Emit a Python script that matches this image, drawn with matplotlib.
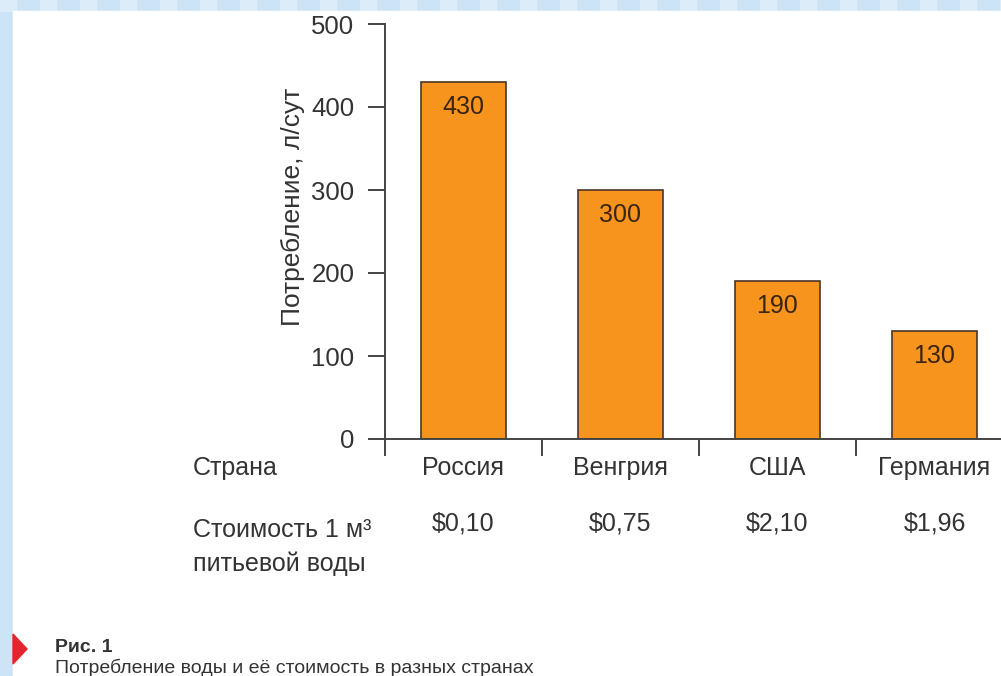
import matplotlib.pyplot as plt
import matplotlib.transforms as mtransforms
from matplotlib.patches import Rectangle, Polygon

plt.rcParams['font.family'] = ['Liberation Sans', 'DejaVu Sans']

W, H = 1001, 676

countries = ['Россия', 'Венгрия', 'США', 'Германия']
consumption = [430, 300, 190, 130]
prices = ['$0,10', '$0,75', '$2,10', '$1,96']
y_ticks = [0, 100, 200, 300, 400, 500]
separators = [-0.5, 0.5, 1.5, 2.5]

TXT = '#333333'
ORANGE = '#f7941d'


def fx(px):
    return px / W


def fy(py):
    return 1 - py / H


fig = plt.figure(figsize=(W / 100, H / 100), dpi=100)

# slide background: light blue frame, white page
fig.patches.append(Rectangle((0, 0), 1, 1, transform=fig.transFigure,
                             color='#cde4f6', zorder=-10))
for xs in range(0, W, 40):
    fig.patches.append(Rectangle((fx(xs), fy(11)), fx(16), 11 / H,
                                 transform=fig.transFigure,
                                 color='#dcecf9', zorder=-9))
fig.patches.append(Rectangle((fx(13), 0), fx(W - 13), fy(11),
                             transform=fig.transFigure,
                             color='white', zorder=-8))
fig.patches.append(Polygon([(fx(13), fy(634)), (fx(27), fy(649)), (fx(13), fy(664))],
                           closed=True, transform=fig.transFigure,
                           color='#e3262e', zorder=-7))

ax = fig.add_axes([fx(385), fy(439), fx(W - 385), (439 - 24) / H])
ax.patch.set_alpha(0)

x = list(range(len(countries)))
ax.bar(x, consumption, width=0.54, color=ORANGE, edgecolor='#4a3526',
       linewidth=1.2, zorder=2)

for i, v in zip(x, consumption):
    ax.annotate(str(v), (i, v), xytext=(0, -18), textcoords='offset points',
                ha='center', va='center', fontsize=18, color='#3a2414')

ax.set_xlim(-0.5, -0.5 + (W - 385) / 157)
ax.set_ylim(0, 500)
ax.set_yticks(y_ticks)
ax.set_xticks(separators)
ax.set_xticklabels([])
ax.tick_params(axis='y', length=12, width=1.4, pad=10, labelsize=18.5,
               colors='#444444', labelcolor=TXT)
ax.tick_params(axis='x', length=12, width=1.4, colors='#444444')
for s in ['top', 'right']:
    ax.spines[s].set_visible(False)
for s in ['left', 'bottom']:
    ax.spines[s].set_linewidth(1.4)
    ax.spines[s].set_color('#444444')

fig.text(fx(293), fy(207), 'Потребление, л/сут', rotation=90,
         ha='center', va='center', fontsize=19, color=TXT)

tr = mtransforms.blended_transform_factory(ax.transData, fig.transFigure)
for i, name, price in zip(x, countries, prices):
    fig.text(i, fy(475), name, transform=tr, ha='center', va='baseline',
             fontsize=18, color=TXT)
    fig.text(i, fy(531), price, transform=tr, ha='center', va='baseline',
             fontsize=18, color=TXT)

fig.text(fx(193), fy(475), 'Страна', ha='left', va='baseline',
         fontsize=18, color=TXT)
fig.text(fx(193), fy(537), 'Стоимость 1 м³', ha='left', va='baseline',
         fontsize=18, color=TXT)
fig.text(fx(193), fy(571), 'питьевой воды', ha='left', va='baseline',
         fontsize=18, color=TXT)

fig.text(fx(55), fy(652), 'Рис. 1', ha='left', va='baseline',
         fontsize=14, fontweight='bold', color=TXT)
fig.text(fx(55), fy(673), 'Потребление воды и её стоимость в разных странах',
         ha='left', va='baseline', fontsize=14, color=TXT)

fig.savefig('out.png', dpi=100)
